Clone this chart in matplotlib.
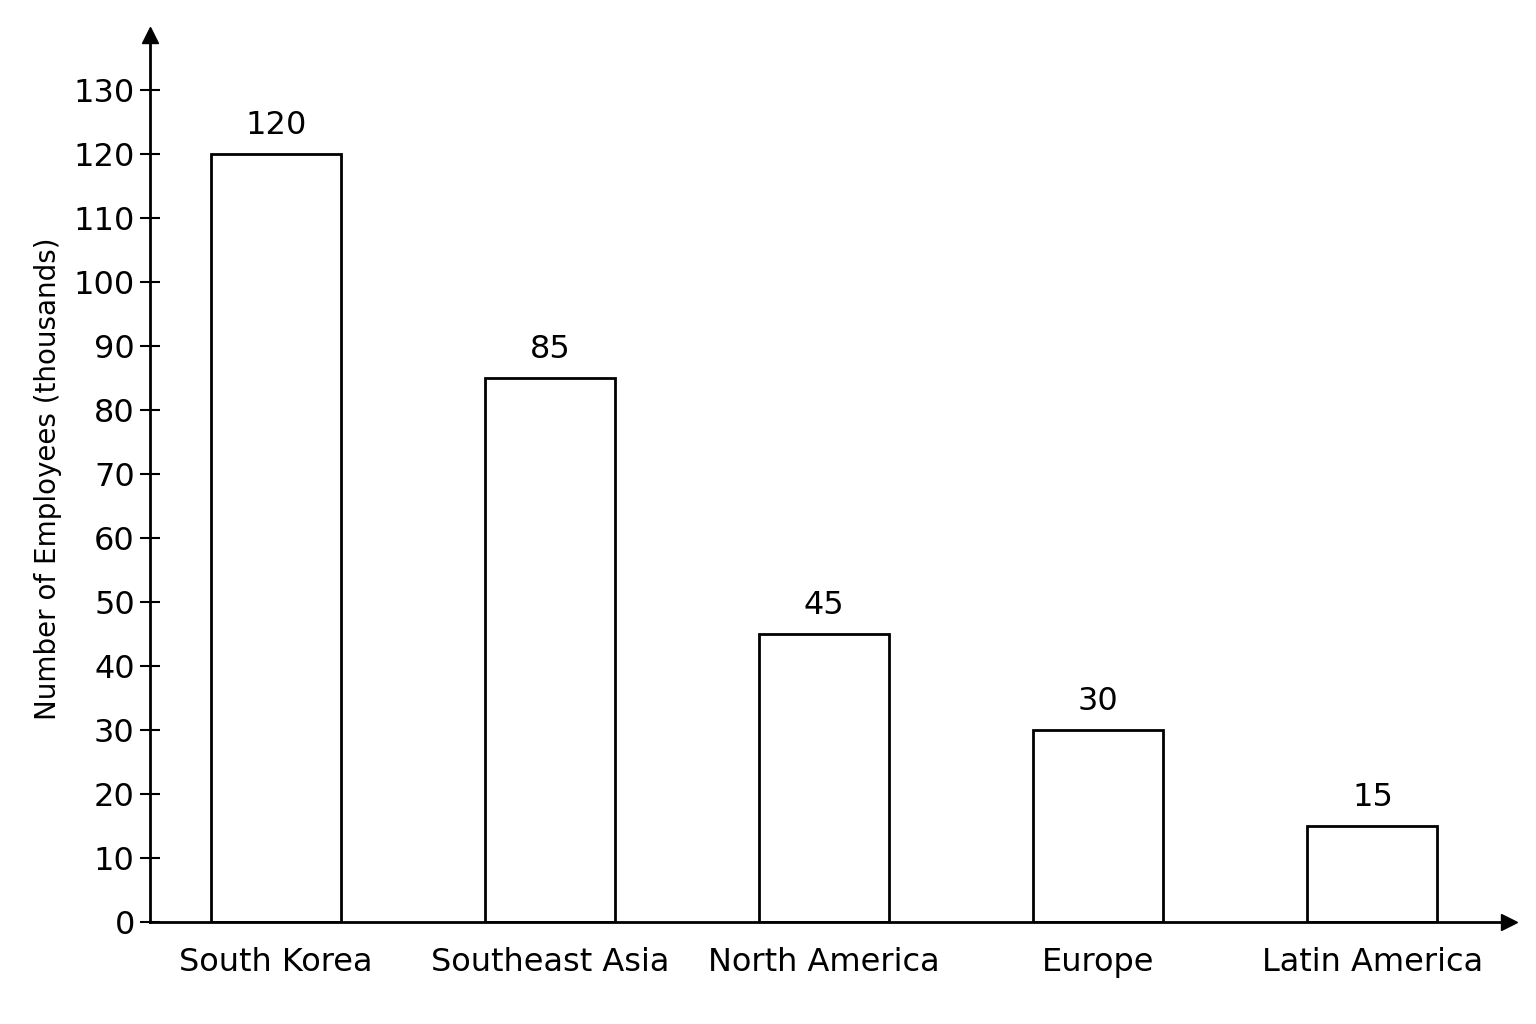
import matplotlib
matplotlib.use('Agg')
import matplotlib.pyplot as plt

regions = ['South Korea', 'Southeast Asia', 'North America', 'Europe', 'Latin America']
employees = [120, 85, 45, 30, 15]
yticks = list(range(0, 140, 10))

narrow = ['Liberation Sans Narrow', 'DejaVu Sans']

fig = plt.figure(figsize=(15.36, 10.24), dpi=100)
ax = fig.add_axes([0.0977, 0.0996, 0.885, 0.866])

x = range(len(regions))
ax.bar(x, employees, width=0.475, facecolor='white', edgecolor='black', linewidth=2)
for xi, v in zip(x, employees):
    ax.text(xi, v + 2, str(v), ha='center', va='bottom', fontsize=23, family=narrow)

ax.set_xlim(-0.46, 4.5)
ax.set_ylim(0, 138.6)
ax.set_yticks(yticks)
ax.set_yticklabels([str(t) for t in yticks], family=narrow, fontsize=23)
ax.set_xticks(list(x))
ax.set_xticklabels(regions, family=narrow, fontsize=23)
ax.tick_params(axis='y', direction='inout', length=14, width=1.5, pad=4)
ax.tick_params(axis='x', length=0, pad=18)
ax.set_ylabel('Number of Employees (thousands)', fontsize=20, labelpad=8)

for s in ['top', 'right']:
    ax.spines[s].set_visible(False)
for s in ['left', 'bottom']:
    ax.spines[s].set_linewidth(2)

# arrow heads
ax.plot(1, 0, '>k', markersize=12, transform=ax.transAxes, clip_on=False)
ax.plot(0, 1, '^k', markersize=12, transform=ax.transAxes, clip_on=False)

fig.savefig('out.png', dpi=100)
